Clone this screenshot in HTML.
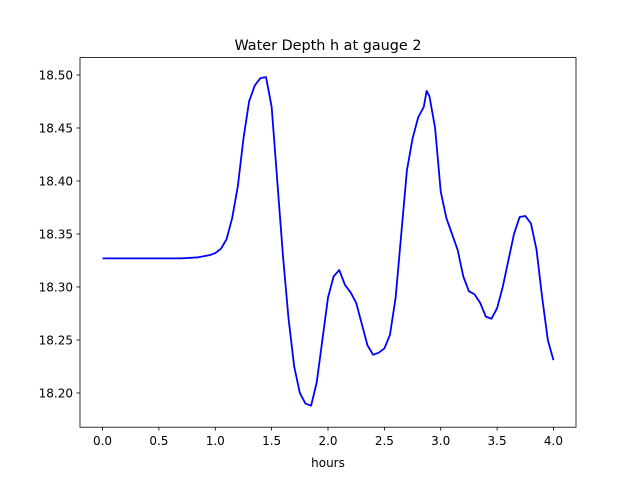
<!DOCTYPE html>
<html><head><meta charset="utf-8"><style>
body{margin:0;background:#fff}
svg{display:block;font-family:"DejaVu Sans","Liberation Sans",sans-serif}
</style></head><body>
<svg id="chart" width="640" height="480">
<rect width="640" height="480" fill="#fff"/>
<text x="328" y="50" text-anchor="middle" font-size="14.4">Water Depth h at gauge 2</text>
<text x="328" y="467" text-anchor="middle" font-size="12">hours</text>
<g id="ticks"></g>
<path id="line" fill="none" stroke="#0000ff" stroke-width="1.8" stroke-linejoin="round"/>
<rect x="80" y="57.6" width="496" height="369.6" fill="none" stroke="#000" stroke-width="0.8"/>
</svg>
<script>
const hours=[0,0.5,0.7,0.85,0.95,1.0,1.05,1.1,1.15,1.2,1.25,1.3,1.35,1.4,1.45,1.5,1.55,1.6,1.65,1.7,1.75,1.8,1.85,1.9,1.95,2.0,2.05,2.1,2.15,2.2,2.25,2.3,2.35,2.4,2.45,2.5,2.55,2.6,2.65,2.7,2.75,2.8,2.85,2.875,2.9,2.95,3.0,3.05,3.1,3.15,3.2,3.25,3.3,3.35,3.4,3.45,3.5,3.55,3.6,3.65,3.7,3.75,3.8,3.85,3.9,3.95,4.0];
const depth=[18.327,18.327,18.327,18.328,18.330,18.332,18.336,18.345,18.365,18.395,18.44,18.475,18.49,18.497,18.498,18.47,18.40,18.33,18.27,18.225,18.20,18.19,18.188,18.21,18.25,18.29,18.31,18.316,18.302,18.295,18.285,18.265,18.245,18.236,18.238,18.242,18.255,18.29,18.35,18.41,18.44,18.46,18.47,18.485,18.48,18.45,18.39,18.365,18.35,18.335,18.31,18.296,18.293,18.285,18.272,18.27,18.28,18.30,18.325,18.35,18.366,18.367,18.36,18.335,18.29,18.25,18.231];
const xTicks=[0,0.5,1.0,1.5,2.0,2.5,3.0,3.5,4.0];
const yTicks=[18.20,18.25,18.30,18.35,18.40,18.45,18.50];
const X0=80,X1=576,Y0=57.6,Y1=427.2;
const xmin=-0.2,xmax=4.2,ymin=18.1677,ymax=18.5164;
const sx=v=>X0+(v-xmin)/(xmax-xmin)*(X1-X0);
const sy=v=>Y1-(v-ymin)/(ymax-ymin)*(Y1-Y0);
const NS="http://www.w3.org/2000/svg";
const g=document.getElementById('ticks');
xTicks.forEach(t=>{
  const l=document.createElementNS(NS,'line');
  l.setAttribute('x1',sx(t));l.setAttribute('x2',sx(t));l.setAttribute('y1',Y1);l.setAttribute('y2',Y1+3.5);l.setAttribute('stroke','#000');l.setAttribute('stroke-width','0.8');
  
  
  g.appendChild(l);
  const tx=document.createElementNS(NS,'text');
  tx.setAttribute('x',sx(t));tx.setAttribute('y',Y1+18);tx.setAttribute('text-anchor','middle');tx.setAttribute('font-size','12');
  tx.textContent=t.toFixed(1);
  
  
  g.appendChild(tx);
});
yTicks.forEach(t=>{
  const l=document.createElementNS(NS,'line');
  l.setAttribute('x1',X0-3.5);l.setAttribute('x2',X0);l.setAttribute('y1',sy(t));l.setAttribute('y2',sy(t));l.setAttribute('stroke','#000');l.setAttribute('stroke-width','0.8');
  
  
  g.appendChild(l);
  const tx=document.createElementNS(NS,'text');
  tx.setAttribute('x',X0-7);tx.setAttribute('y',sy(t)+4.5);tx.setAttribute('text-anchor','end');tx.setAttribute('font-size','12');
  tx.textContent=t.toFixed(2);
  
  
  g.appendChild(tx);
});
document.getElementById('line').setAttribute('d',hours.map((h,i)=>(i?'L':'M')+sx(h).toFixed(2)+','+sy(depth[i]).toFixed(2)).join(''));
</script>
</body></html>
